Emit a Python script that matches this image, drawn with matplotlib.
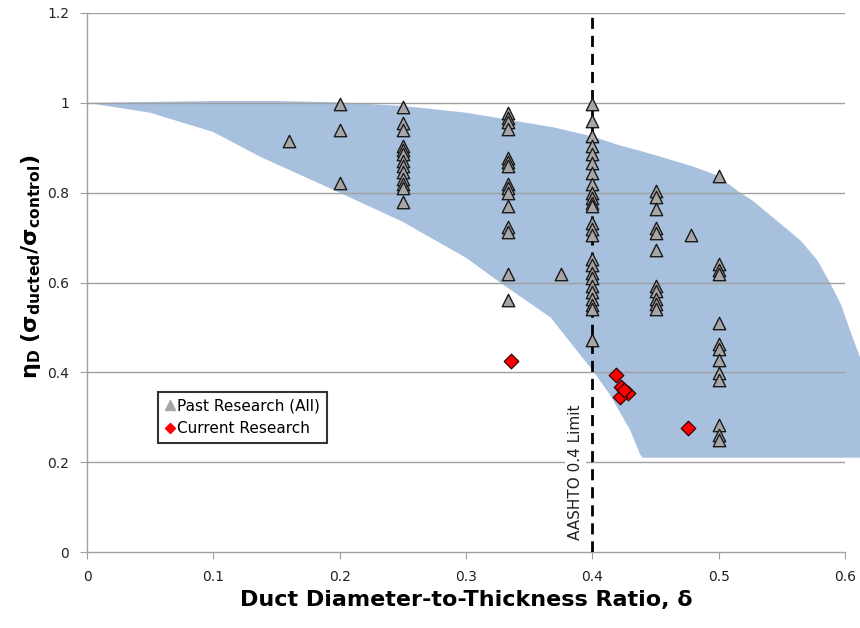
import matplotlib
matplotlib.use("Agg")
import matplotlib.pyplot as plt
from matplotlib.lines import Line2D
from matplotlib.ticker import FuncFormatter

# ---------------- data ----------------
past_cols = [0.16, 0.2, 0.25, 0.333, 0.375, 0.4, 0.45, 0.478, 0.5]
past_vals = [
    [0.915],
    [0.998, 0.94, 0.822],
    [0.99, 0.955, 0.94, 0.905, 0.895, 0.885, 0.87, 0.86, 0.845, 0.83, 0.82, 0.81, 0.78],
    [0.978, 0.967, 0.958, 0.942, 0.878, 0.869, 0.86, 0.82, 0.81, 0.80, 0.771, 0.723, 0.712, 0.62, 0.56],
    [0.62],
    [0.997, 0.96, 0.927, 0.904, 0.887, 0.867, 0.844, 0.82, 0.80, 0.789, 0.778, 0.771,
     0.733, 0.72, 0.705, 0.653, 0.638, 0.622, 0.609, 0.593, 0.578, 0.564, 0.549, 0.542, 0.471],
    [0.804, 0.79, 0.764, 0.722, 0.711, 0.673, 0.593, 0.582, 0.564, 0.553, 0.54],
    [0.706],
    [0.838, 0.642, 0.627, 0.618, 0.509, 0.464, 0.453, 0.427, 0.398, 0.382, 0.282, 0.26, 0.249],
]

current_x = [0.336, 0.419, 0.423, 0.428, 0.422, 0.425, 0.476]
current_y = [0.425, 0.394, 0.368, 0.355, 0.345, 0.36, 0.276]

# envelope (shaded band) boundaries
band_upper_x = [0.0, 0.05, 0.1, 0.15, 0.2, 0.25, 0.3, 0.33, 0.37, 0.4, 0.422, 0.438, 0.46, 0.48,
                0.499, 0.517, 0.527, 0.545, 0.565, 0.578, 0.588, 0.597, 0.604, 0.612, 0.62, 0.63]
band_upper_y = [1.0, 1.002, 1.004, 1.004, 1.001, 0.993, 0.978, 0.964, 0.945, 0.925, 0.905, 0.893, 0.875, 0.858,
                0.838, 0.80, 0.782, 0.74, 0.693, 0.65, 0.60, 0.55, 0.493, 0.433, 0.34, 0.21]
band_lower_x = [0.0, 0.05, 0.1, 0.137, 0.2, 0.25, 0.3, 0.327, 0.367, 0.4, 0.414, 0.43, 0.438, 0.44]
band_lower_y = [1.0, 0.978, 0.935, 0.88, 0.8, 0.735, 0.655, 0.6, 0.522, 0.405, 0.35, 0.271, 0.216, 0.21]

x_ticks = [0, 0.1, 0.2, 0.3, 0.4, 0.5, 0.6]
y_ticks = [0, 0.2, 0.4, 0.6, 0.8, 1.0, 1.2]
aashto_limit = 0.4

past_x = [x for x, ys in zip(past_cols, past_vals) for _ in ys]
past_y = [y for ys in past_vals for y in ys]

# ---------------- plot ----------------
plt.rcParams['font.family'] = ['DejaVu Sans']
plt.rcParams['mathtext.fontset'] = 'dejavusans'
fig = plt.figure(figsize=(8.6, 6.28), dpi=100)
ax = fig.add_axes([87 / 860, 1 - 552 / 628, (845 - 87) / 860, (552 - 13) / 628])

ax.set_xlim(0, 0.6)
ax.set_ylim(0, 1.2)

# band
poly_x = band_upper_x + band_lower_x[::-1]
poly_y = band_upper_y + band_lower_y[::-1]
ax.fill(poly_x, poly_y, color='#A7C0DE', lw=0, zorder=1, clip_on=False)

# grid
for yv in y_ticks[1:]:
    ax.axhline(yv, color='#A0A0A0', lw=1.0, zorder=2)

# AASHTO line
ax.axvline(aashto_limit, color='black', lw=2, ls=(0, (4, 2.5)), zorder=3)
ax.text(aashto_limit - 0.0135, 0.027, 'AASHTO 0.4 Limit', rotation=90, ha='center', va='bottom',
        fontsize=11, color='#222222', zorder=3,
        bbox=dict(facecolor='white', edgecolor='none', pad=2))

ax.scatter(past_x, past_y, marker='^', s=80, facecolor='#A6A6A6', edgecolor='#1A1A1A',
           linewidth=1.0, zorder=4)
ax.scatter(current_x, current_y, marker='D', s=55, facecolor='#FF0000', edgecolor='#330000',
           linewidth=0.9, zorder=5)

# axes styling
for s in ['top', 'right']:
    ax.spines[s].set_visible(False)
for s in ['left', 'bottom']:
    ax.spines[s].set_color('#A0A0A0')
    ax.spines[s].set_linewidth(1.0)
ax.set_xticks(x_ticks)
ax.set_yticks(y_ticks)
fmt = FuncFormatter(lambda v, p: '%g' % round(v, 3))
ax.xaxis.set_major_formatter(fmt)
ax.yaxis.set_major_formatter(fmt)
ax.tick_params(axis='both', direction='out', length=5, color='#A0A0A0', labelsize=10,
               labelcolor='#222222')
ax.tick_params(axis='x', pad=8)
ax.tick_params(axis='y', pad=8)

ax.set_xlabel('Duct Diameter-to-Thickness Ratio, δ', fontsize=16, fontweight='bold', labelpad=4)
ax.set_ylabel(r'$\mathbf{\eta_D\ (\sigma_{ducted}/\sigma_{control})}$', fontsize=16)
ax.yaxis.set_label_coords(-0.058, 0.53)

handles = [Line2D([], [], marker='^', ls='none', markersize=7, markerfacecolor='#A6A6A6',
                  markeredgecolor='#A6A6A6', label='Past Research (All)'),
           Line2D([], [], marker='D', ls='none', markersize=5, markerfacecolor='#FF0000',
                  markeredgecolor='#FF0000', label='Current Research')]
leg = ax.legend(handles=handles, loc='upper left', bbox_to_anchor=(0.094, 0.297), fontsize=11,
                frameon=True, fancybox=False, edgecolor='black', handlelength=0.6,
                handletextpad=0.2, borderpad=0.45, labelspacing=0.5, borderaxespad=0)
leg.get_frame().set_linewidth(1.5)
leg.set_zorder(6)

fig.savefig('out.png', dpi=100)
